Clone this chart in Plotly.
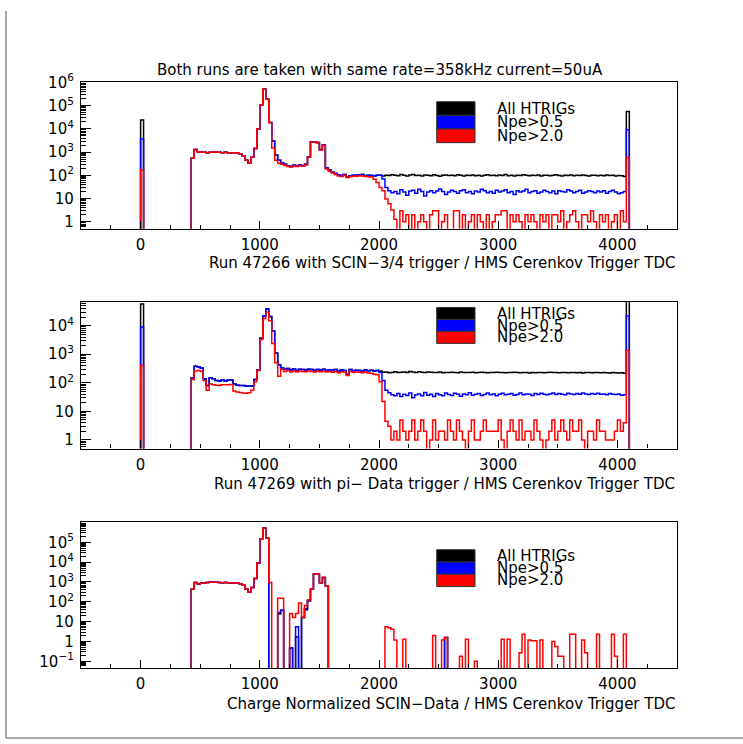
import math
import plotly.graph_objects as go

W, H = 743, 744
FONT = "DejaVu Sans"
FONT_SIZE = 15

# ---------------------------------------------------------------------------
# Histogram binning of the HMS Cerenkov trigger TDC
# ---------------------------------------------------------------------------
BIN_WIDTH = 25
TDC_MIN, TDC_MAX = -500, 4500
BODY_START = 425   # first channel of the populated TDC body (425 ... 4075)

SERIES_NAMES = ["All HTRIGs", "Npe>0.5", "Npe>2.0"]
SERIES_COLORS = ["#000000", "#0000ff", "#ff0000"]

# ---------------------------------------------------------------------------
# Run 47266, SCIN-3/4 trigger
# ---------------------------------------------------------------------------
R1_ZERO = [24000, 3700, 170]          # counts in channel 0 for each selection

r1_body = [550, 1300, 1050, 1000, 1000, 950, 1000, 1050, 1000, 1000,
           950, 1000, 950, 950, 950, 900, 850, 700, 450, 330,
           600, 1450, 10000, 110000, 530000, 190000, 19000]          # 425..1075

r1_all_mid = [3000, 750, 450, 340, 300, 260, 240, 270, 250, 280,
              260, 300, 620, 2800, 2800, 2600, 1300, 2100, 210, 170,
              135, 120, 105, 98, 110, 88, 96, 102, 100, 106,
              110, 96, 100, 98, 95, 102, 100, 95]                      # 1100..2025
r1_npe05_mid = [3000, 750, 450, 340, 300, 260, 240, 270, 250, 280,
                260, 300, 620, 2800, 2800, 2600, 1300, 2100, 210, 170,
                135, 120, 105, 98, 110, 88, 96, 102, 100, 106,
                110, 96, 100, 98, 95, 102, 100, 70]
r1_npe20_mid = [1500, 450, 330, 300, 270, 240, 230, 250, 240, 260,
                250, 280, 600, 2700, 2700, 2500, 1250, 2000, 190, 150,
                125, 110, 95, 90, 100, 80, 88, 95, 92, 96,
                95, 90, 88, 85, 68, 49, 30, 22]

r1_all_tail = [102, 98, 105, 100, 96, 108, 100, 95, 103, 110,
               98, 100, 94, 104, 100, 97, 106, 99, 92, 100,
               104, 98, 101, 96, 107, 100, 95, 102, 99, 104,
               96, 100, 93, 101, 105, 98, 100, 96, 103, 99,
               108, 97, 100, 94, 102, 99, 105, 100, 96, 101,
               98, 104, 95, 100, 102, 97, 100, 106, 98, 95,
               101, 99, 103, 96, 100, 98, 104, 99, 95, 102,
               100, 97, 101, 96, 103, 98, 100, 95, 99, 96,
               90, 56000]                                              # 2050..4075
r1_npe05_tail = [30, 22, 18, 20, 16, 24, 19, 14, 21, 23,
                 17, 25, 20, 13, 19, 22, 18, 21, 26, 20,
                 15, 19, 23, 20, 17, 22, 24, 18, 20, 16,
                 21, 19, 25, 22, 18, 20, 17, 23, 19, 21,
                 24, 18, 20, 15, 22, 19, 21, 25, 18, 20,
                 22, 17, 19, 23, 20, 18, 21, 16, 22, 20,
                 19, 24, 21, 18, 20, 23, 17, 19, 22, 20,
                 18, 21, 19, 22, 17, 20, 23, 19, 16, 18,
                 20, 9300]
r1_npe20_tail = [9.7, 6, 3.2, 1.3,
                 0, 3, 1, 2, 0, 2, 0, 1, 2, 1,
                 0, 2, 3, 3, 0, 1, 2, 0, 0, 3,
                 3, 0, 2, 0, 1, 2, 0, 2, 1, 0,
                 2, 0, 1, 2, 2, 3, 3, 0, 2, 1,
                 2, 1, 0, 2, 1, 2, 1, 0, 2, 1,
                 2, 0, 2, 2, 1, 3, 0, 1, 2, 3,
                 1, 0, 2, 2, 1, 3, 1, 0, 2, 1,
                 2, 0, 1, 2, 0, 3, 1,
                 590]

# ---------------------------------------------------------------------------
# Run 47269, pi- Data trigger
# ---------------------------------------------------------------------------
R2_ZERO = [57000, 9000, 400]

r2_body = [150, 380, 360, 330, 140, 80, 150, 140, 120, 115,
           125, 115, 125, 125, 90, 82, 80, 80, 78, 78,
           78, 130, 280, 3600, 22000, 38000, 21000, 6500, 1100, 430,
           340, 300, 320, 280, 310, 270, 300, 290, 280, 300,
           290, 270, 290, 280, 300, 270, 285, 275, 290, 260,
           280, 270, 200, 290, 265, 275, 270, 260, 280, 265,
           275, 260, 270]                                              # 425..1975
r2_npe20_body = [130, 260, 270, 250, 120, 55, 90, 85, 82, 80,
                 85, 85, 85, 88, 52, 48, 46, 44, 43, 45,
                 55, 110, 270, 3300, 18000, 30000, 15000, 2400, 500, 170,
                 300, 250, 270, 240, 260, 240, 260, 250, 245, 260,
                 250, 240, 255, 245, 260, 240, 250, 235, 250, 225,
                 245, 235, 180, 250, 230, 240, 235, 225, 240, 220,
                 215, 200, 190]

r2_all_tail = [260,
               235, 240, 225, 230, 245, 228, 236, 240, 232, 250,
               238, 230, 242, 235, 228, 240, 236, 232, 230, 238,
               226, 232, 228, 235, 230, 225, 238, 232, 228, 230,
               236, 227, 230, 233, 228, 226, 232, 230, 236, 228,
               230, 225, 232, 228, 235, 230, 226, 232, 228, 222,
               230, 226, 232, 228, 224, 230, 236, 228, 232, 226,
               230, 228, 224, 232, 228, 226, 230, 222, 228, 232,
               226, 230, 228, 224, 230, 226, 222, 228, 225, 220,
               226, 218,
               90000]                                                  # 2000..4075
r2_npe05_tail = [230, 120, 55,
                 45, 38, 35, 42, 33, 40, 36, 44, 30, 38,
                 41, 35, 46, 37, 40, 33, 42, 38, 35, 44,
                 39, 36, 43, 40, 34, 41, 38, 45, 37, 40,
                 42, 36, 39, 44, 38, 41, 35, 40, 43, 38,
                 40, 42, 37, 39, 44, 38, 41, 40, 36, 42,
                 39, 43, 40, 38, 41, 44, 39, 42, 40, 38,
                 43, 41, 39, 42, 40, 44, 41, 39, 42, 40,
                 43, 40, 41, 38, 42, 40, 39, 41, 37, 38,
                 22000]
r2_npe20_tail = [110, 22, 4.5,
                 3, 1, 2, 1, 5, 2, 1, 2, 5, 1,
                 2, 5, 2, 0, 1, 5, 1, 2, 2, 1,
                 5, 2, 1, 5, 2, 1, 0, 2, 5, 1,
                 1, 2, 5, 2, 2, 2, 2, 5, 1, 0,
                 2, 5, 2, 1, 5, 1, 2, 2, 1, 5,
                 2, 1, 0, 1, 2, 5, 1, 2, 5, 2,
                 1, 5, 2, 2, 5, 1, 0, 2, 2, 1,
                 5, 2, 2, 1, 1, 1, 2, 5, 2, 4,
                 1350]

# ---------------------------------------------------------------------------
# Charge normalized SCIN-Data
# ---------------------------------------------------------------------------
CN_ZERO = [0, 0, 0]

cn_body = [430, 930, 780, 860, 880, 950, 1000, 980, 980, 950,
           900, 930, 900, 880, 880, 870, 820, 680, 430, 300,
           520, 1500, 9100, 150000, 530000, 160000]                    # 425..1050

cn_all_mid = [0, 0, 0, 24, 38, 0, 0, 0.47, 0, 1.7,
              0, 16, 40, 110, 430, 2600, 2500, 900, 1700, 650, 0]     # 1075..1575
cn_npe05_mid = [0, 0, 0, 29, 38, 0, 0, 0.47, 0, 5.6,
                0, 16, 45, 120, 430, 2600, 2500, 900, 1700, 650, 0]
cn_npe20_mid = [930, 0, 0, 150, 150, 0, 0, 26, 16, 26,
                87, 16, 66, 125, 430, 2600, 2500, 900, 1700, 650, 0]

cn_all_tail = [0, 0, 0, 0, 0, 0, 0, 0, 0, 0,
               0, 0, 0, 0, 0, 0, 0, 0, 0, 0,
               0, 0, 0, 0, 0, 0, 0, 0, 0, 0,
               0, 0, 0, 0, 0, 0, 0, 0, 1.6, 0,
               0, 0, 0, 0, 0, 0, 0, 0, 0, 0,
               0, 0, 0, 0, 0, 0, 0, 0, 0, 0,
               0, 0, 0, 0, 0, 0, 0, 0, 0, 0,
               0, 0, 0, 0, 0, 0, 0, 0, 0, 0,
               0, 0, 0, 0, 0, 0, 0, 0, 0, 0,
               0, 0, 0, 0, 0, 0, 0, 0, 0, 0]                            # 1600..4075
cn_npe05_tail = list(cn_all_tail)
cn_npe20_tail = [0, 0, 0, 0, 0, 0, 0, 0, 0, 0,
                 0, 0, 0, 0, 0, 0, 0, 0, 5.5, 5.0,
                 4.2, 1.2, 0, 0, 1.3, 0, 0, 0, 0, 0,
                 0, 0, 0, 0, 2.0, 0, 0, 1.2, 1.6, 0,
                 0, 0, 0, 0.18, 0, 1.3, 0, 0, 0.1, 0,
                 0, 0, 0, 0, 0, 0, 0, 1.3, 0, 1.3,
                 0, 0, 0, 0.27, 2.3, 0, 1.2, 1.1, 1.1, 0,
                 1.2, 0, 0, 0, 1.0, 0.56, 0.18, 0.18, 0, 0,
                 2.3, 2.3, 0, 0, 1.2, 0.27, 0, 0, 0, 2.3,
                 0, 0, 0, 0, 2.3, 0.18, 0, 0, 2.3, 0]

# ---------------------------------------------------------------------------
# assemble the per-panel series (All HTRIGs, Npe>0.5, Npe>2.0)
# ---------------------------------------------------------------------------
run1 = [r1_body + r1_all_mid + r1_all_tail,
        r1_body + r1_npe05_mid + r1_npe05_tail,
        r1_body + r1_npe20_mid + r1_npe20_tail]
run2 = [r2_body + r2_all_tail,
        r2_body + r2_npe05_tail,
        r2_npe20_body + r2_npe20_tail]
norm = [cn_body + cn_all_mid + cn_all_tail,
        cn_body + cn_npe05_mid + cn_npe05_tail,
        cn_body + cn_npe20_mid + cn_npe20_tail]

N_BINS = (TDC_MAX - TDC_MIN) // BIN_WIDTH
EDGES = [TDC_MIN + BIN_WIDTH * i for i in range(N_BINS + 1)]
ZERO_INDEX = (0 - TDC_MIN) // BIN_WIDTH
BODY_INDEX = (BODY_START - TDC_MIN) // BIN_WIDTH


def full_histogram(zero_count, body):
    counts = [0] * N_BINS
    counts[ZERO_INDEX] = zero_count
    counts[BODY_INDEX:BODY_INDEX + len(body)] = body
    return counts


FLOOR = 1e-3   # empty bins drop below the log axis


def step_xy(counts):
    ys = [c if c > 0 else FLOOR for c in counts]
    return EDGES, ys + [ys[-1]]


def px_x(px):
    return px / W


def px_y(py):
    return 1 - py / H


def sup(n):
    if n == 0:
        return "1"
    if n == 1:
        return "10"
    return "10<sup>%s</sup>" % (str(n) if n > 0 else "\u2212" + str(-n))


panels = [
    dict(data=run1, zero=R1_ZERO, top=72.7, bottom=221.7, yr=(-0.301, 6.0),
         decades=list(range(0, 7)),
         xtitle="Run 47266 with SCIN\u22123/4 trigger / HMS Cerenkov Trigger TDC",
         xtitle_y=256.7, leg_top=92.3, leg_row=13.9, text_rows=[99.3, 113.3, 127.3]),
    dict(data=run2, zero=R2_ZERO, top=296.0, bottom=445.3, yr=(-0.30, 4.835),
         decades=list(range(0, 5)),
         xtitle="Run 47269 with pi\u2212 Data trigger / HMS Cerenkov Trigger TDC",
         xtitle_y=481.5, leg_top=301.7, leg_row=12.2, text_rows=[308.3, 320.5, 332.0]),
    dict(data=norm, zero=CN_ZERO, top=520.3, bottom=669.0, yr=(-1.35, 6.01),
         decades=list(range(-1, 6)),
         xtitle="Charge Normalized SCIN\u2212Data / HMS Cerenkov Trigger TDC",
         xtitle_y=705.0, leg_top=548.3, leg_row=12.5, text_rows=[555.0, 567.0, 579.3]),
]

FRAME_L, FRAME_R = 81.0, 677.0
TEXT_FONT = dict(family=FONT, size=FONT_SIZE, color="black")

fig = go.Figure()
shapes = []
annotations = []

for i, p in enumerate(panels, start=1):
    xa = "x" if i == 1 else "x%d" % i
    ya = "y" if i == 1 else "y%d" % i
    for s, (counts, zero_count) in enumerate(zip(p["data"], p["zero"])):
        xs, ys = step_xy(full_histogram(zero_count, counts))
        fig.add_trace(go.Scatter(
            x=xs, y=ys, mode="lines", line=dict(color=SERIES_COLORS[s], width=1.5, shape="hv"),
            name=SERIES_NAMES[s], showlegend=False, xaxis=xa, yaxis=ya, hoverinfo="skip"))

    lo, hi = p["yr"]
    major = [10.0 ** d for d in p["decades"]]
    minor = [k * 10.0 ** d for d in range(int(lo) - 1, int(hi) + 1) for k in range(2, 10)
             if lo <= math.log10(k * 10.0 ** d) <= hi]
    xkey = "xaxis" if i == 1 else "xaxis%d" % i
    ykey = "yaxis" if i == 1 else "yaxis%d" % i
    fig.update_layout(**{
        xkey: dict(domain=[px_x(FRAME_L), px_x(FRAME_R)], anchor=ya, range=[TDC_MIN, TDC_MAX],
                   tickmode="array", tickvals=[0, 1000, 2000, 3000, 4000],
                   ticks="inside", ticklen=8, tickwidth=1, tickcolor="black",
                   minor=dict(tickmode="array",
                              tickvals=[v for v in range(-250, 4500, 250) if v % 1000 != 0],
                              ticks="inside", ticklen=4, tickcolor="black", showgrid=False),
                   showline=True, mirror=True, linecolor="black", linewidth=1.2,
                   showgrid=False, zeroline=False, ticklabelstandoff=2,
                   tickfont=TEXT_FONT),
        ykey: dict(domain=[px_y(p["bottom"]), px_y(p["top"])], anchor=xa, type="log",
                   range=[lo, hi], tickmode="array", tickvals=major,
                   ticktext=[sup(d) for d in p["decades"]],
                   ticks="inside", ticklen=10, tickwidth=1, tickcolor="black",
                   minor=dict(tickmode="array", tickvals=minor, ticks="inside", ticklen=5,
                              tickcolor="black", showgrid=False),
                   showline=True, mirror=True, linecolor="black", linewidth=1.2,
                   showgrid=False, zeroline=False, ticklabelstandoff=3,
                   tickfont=TEXT_FONT),
    })

    # x-axis caption, right aligned to the frame
    annotations.append(dict(text=p["xtitle"], x=px_x(FRAME_R), y=px_y(p["xtitle_y"]),
                            xref="paper", yref="paper", xanchor="right", yanchor="middle",
                            showarrow=False, font=TEXT_FONT))

    # legend: filled colour boxes with labels
    for s in range(3):
        y0 = p["leg_top"] + s * p["leg_row"]
        shapes.append(dict(type="rect", xref="paper", yref="paper",
                           x0=px_x(436.7), x1=px_x(475.0), y0=px_y(y0 + p["leg_row"]), y1=px_y(y0),
                           fillcolor=SERIES_COLORS[s], line=dict(color="#333333", width=1)))
        annotations.append(dict(text=SERIES_NAMES[s].replace(">", "&gt;"), x=px_x(495),
                                y=px_y(p["text_rows"][s]), xref="paper", yref="paper",
                                xanchor="left", yanchor="middle", showarrow=False,
                                font=TEXT_FONT))

annotations.append(dict(text="Both runs are taken with same rate=358kHz current=50uA",
                        x=px_x(380), y=px_y(60), xref="paper", yref="paper",
                        xanchor="center", yanchor="middle", showarrow=False,
                        font=TEXT_FONT))

# canvas border
shapes.append(dict(type="line", xref="paper", yref="paper", x0=px_x(6), x1=px_x(6),
                   y0=px_y(0), y1=px_y(740), line=dict(color="#8a8a8a", width=1.5)))
shapes.append(dict(type="line", xref="paper", yref="paper", x0=px_x(6), x1=px_x(743),
                   y0=px_y(740), y1=px_y(740), line=dict(color="#8a8a8a", width=1.5)))

fig.update_layout(width=W, height=H, autosize=False, margin=dict(l=0, r=0, t=0, b=0),
                  paper_bgcolor="white", plot_bgcolor="white",
                  shapes=shapes, annotations=annotations, showlegend=False)

fig.write_html("out.html")
